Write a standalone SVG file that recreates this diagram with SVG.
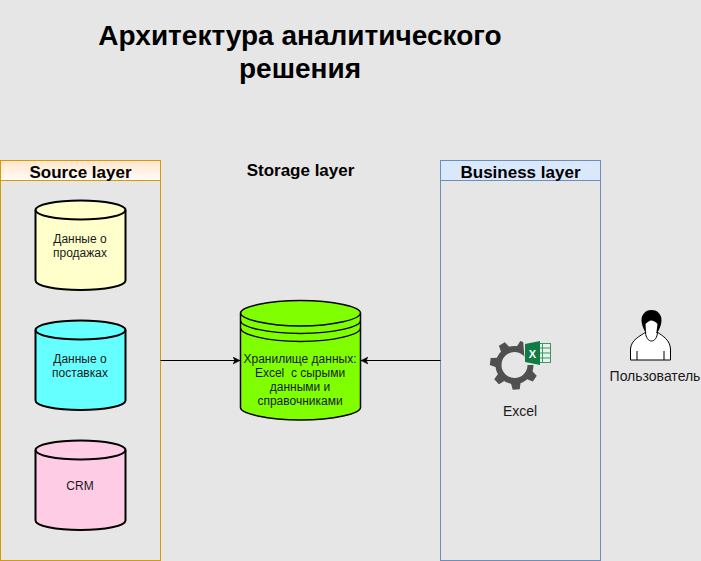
<svg xmlns="http://www.w3.org/2000/svg" width="701" height="561" viewBox="0 0 701 561">
<defs>
<linearGradient id="gs" x1="0" y1="0" x2="0" y2="1"><stop offset="0" stop-color="#ffe6cc"/><stop offset="1" stop-color="#fffcf8"/></linearGradient>
<marker id="arr" markerWidth="10" markerHeight="10" refX="7" refY="4" orient="auto" markerUnits="userSpaceOnUse"><path d="M0 0.500L7 4L0 7.500L1.800 4Z" fill="#000" stroke="#000" stroke-width="0.500"/></marker>
<path id="tooth" d="M-5 -17L-3.500 -24.500H3.500L5 -17Z" fill="#505050"/>
</defs>
<style>
text{font-family:"Liberation Sans",Arial,sans-serif;text-anchor:middle}
.t{font-size:12px;fill:#1a1a1a}
.l{font-size:14px;fill:#1a1a1a}
.h{font-size:17px;font-weight:bold;fill:#000}
.d{font-size:28px;font-weight:bold;fill:#000}
.c{stroke:#000;stroke-width:2}
.s{stroke:#000;fill:none}
</style>
<rect width="701" height="561" fill="#e6e6e6"/>
<g id="title"><text class="d" x="300" y="45">Архитектура аналитического</text><text class="d" x="300" y="78">решения</text></g>
<g id="source-layer">
<rect x="0.500" y="160.500" width="160" height="400" fill="none" stroke="#d79b00"/>
<rect x="0.500" y="160.500" width="160" height="20" fill="url(#gs)" stroke="#d79b00"/>
<text class="h" x="80.500" y="177.500">Source layer</text>
</g>
<g id="storage-label"><text class="h" x="300.500" y="175.500">Storage layer</text></g>
<g id="business-layer">
<rect x="440.500" y="160.500" width="160" height="400" fill="none" stroke="#6c8ebf"/>
<rect x="440.500" y="160.500" width="160" height="20" fill="#dae8fc" stroke="#6c8ebf"/>
<text class="h" x="520.500" y="177.500">Business layer</text>
</g>
<g id="sales">
<path class="c" fill="#ffffcc" d="M35.500 210V280.500C35.500 286 56 290 80.500 290S125.500 286 125.500 280.500V210C125.500 204.500 105 200.500 80.500 200.500S35.500 204.500 35.500 210Z"/>
<path class="c" fill="none" d="M35.500 210C35.500 215.500 56 219.500 80.500 219.500S125.500 215.500 125.500 210"/>
<text class="t" x="80" y="243">Данные о</text><text class="t" x="80" y="257">продажах</text>
</g>
<g id="supply">
<path class="c" fill="#66ffff" d="M35.500 330V400.500C35.500 406 56 410 80.500 410S125.500 406 125.500 400.500V330C125.500 324.500 105 320.500 80.500 320.500S35.500 324.500 35.500 330Z"/>
<path class="c" fill="none" d="M35.500 330C35.500 335.500 56 339.500 80.500 339.500S125.500 335.500 125.500 330"/>
<text class="t" x="80" y="363">Данные о</text><text class="t" x="80" y="377">поставках</text>
</g>
<g id="crm">
<path class="c" fill="#ffcce6" d="M35.500 450V520.500C35.500 526 56 530 80.500 530S125.500 526 125.500 520.500V450C125.500 444.500 105 440.500 80.500 440.500S35.500 444.500 35.500 450Z"/>
<path class="c" fill="none" d="M35.500 450C35.500 455.500 56 459.500 80.500 459.500S125.500 455.500 125.500 450"/>
<text class="t" x="80" y="490">CRM</text>
</g>
<g id="storage">
<path fill="#80ff00" stroke="#000" stroke-width="1.500" d="M240.500 313V407.500C240.500 413.500 267 420 300.500 420S360.500 413.500 360.500 407.500V313C360.500 307 334 300.500 300.500 300.500S240.500 307 240.500 313Z"/>
<path class="s" stroke-width="1.300" d="M240.500 313C240.500 319 267 326 300.500 326S360.500 319 360.500 313M240.500 320.500C240.500 327 267 333.500 300.500 333.500S360.500 327 360.500 320.500M240.500 328C240.500 334.500 267 341.500 300.500 341.500S360.500 334.500 360.500 328"/>
<text class="t" x="300" y="363">Хранилище данных:</text>
<text class="t" x="300" y="377" xml:space="preserve">Excel  с сырыми</text>
<text class="t" x="300" y="391">данными и</text>
<text class="t" x="300" y="405">справочниками</text>
</g>
<g id="excel">
<circle cx="514.500" cy="365" r="16" fill="none" stroke="#505050" stroke-width="6"/>
<use href="#tooth" transform="translate(514.500 365) rotate(-31)"/>
<use href="#tooth" transform="translate(514.500 365) rotate(-82)"/>
<use href="#tooth" transform="translate(514.500 365) rotate(-133)"/>
<use href="#tooth" transform="translate(514.500 365) rotate(-184)"/>
<use href="#tooth" transform="translate(514.500 365) rotate(-236)"/>
<use href="#tooth" transform="translate(514.500 365) rotate(-287)"/>
<use href="#tooth" transform="translate(514.500 365) rotate(-338)"/>
<path fill="#e6e6e6" d="M523 339h30v26h-28z"/>
<rect x="534.500" y="343.500" width="16" height="19" fill="#e6f2ea" stroke="#3f9566"/>
<path stroke="#3f9566" d="M542.500 343.500v19M538 348h12.500M538 353h12.500M538 358h12.500" fill="none"/>
<path fill="#107c41" d="M525 344l15-3v24l-15-3z"/>
<text x="532.500" y="358" font-size="11" font-weight="bold" style="fill:#fff">X</text>
<text class="l" x="520" y="416">Excel</text>
</g>
<g id="user">
<path d="M630.500 360V349C631 340 640 336 646 332H657C663 336 670 340 670.500 349V360Z" fill="#fff" stroke="#000"/>
<path d="M637 360V351M664 360V351" stroke="#000" fill="none"/>
<path d="M645.500 332C646 344 657 344 657.500 332" stroke="#000" fill="#fff"/>
<path d="M651.500 310C645 310 641.500 315 641.500 320C641.500 325 644 330 646 333H657C659 330 661.500 325 661.500 320C661.500 315 658 310 651.500 310Z" fill="#000"/>
<path d="M645.500 324C648 322 649.500 320.500 651 320.500C653 320.500 656 322 657.500 324L656.500 332C655 336 653 339 651.500 339C650 339 647 336 646 332Z" fill="#fff"/>
<text class="l" x="655" y="381">Пользователь</text>
</g>
<g id="connectors" fill="none" stroke="#000">
<path d="M160.500 360.500H240" marker-end="url(#arr)"/>
<path d="M440.500 360.500H361" marker-end="url(#arr)"/>
</g>
</svg>
